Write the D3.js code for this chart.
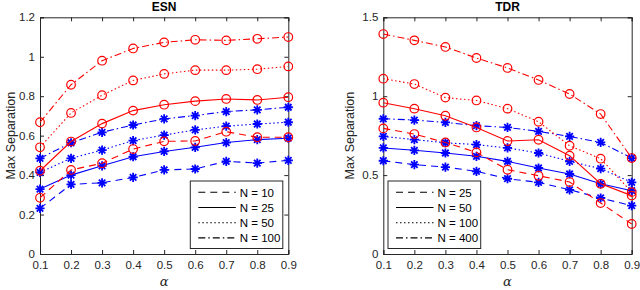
<!DOCTYPE html>
<html>
<head>
<meta charset="utf-8">
<script src="https://cdn.jsdelivr.net/npm/d3@7"></script>
<style>
  body { margin: 0; background: #fff; }
  text { font-family: "Liberation Sans", Arial, sans-serif; }
</style>
</head>
<body>
<div id="chart"></div>
<script>
// alpha values (x axis), shared by both panels
const alphas = [0.1, 0.2, 0.3, 0.4, 0.5, 0.6, 0.7, 0.8, 0.9];

// ESN panel
const esnSizes = ["N = 10", "N = 25", "N = 50", "N = 100"];
const esnRed = [
    [0.285, 0.426, 0.460, 0.532, 0.571, 0.573, 0.620, 0.592, 0.592],
    [0.422, 0.570, 0.661, 0.727, 0.757, 0.775, 0.786, 0.781, 0.795],
    [0.541, 0.715, 0.805, 0.880, 0.913, 0.932, 0.932, 0.937, 0.951],
    [0.668, 0.858, 0.980, 1.042, 1.073, 1.086, 1.083, 1.091, 1.100]
];
const esnBlue = [
    [0.231, 0.353, 0.361, 0.388, 0.426, 0.431, 0.470, 0.461, 0.475],
    [0.329, 0.400, 0.447, 0.493, 0.520, 0.541, 0.565, 0.580, 0.587],
    [0.414, 0.485, 0.527, 0.575, 0.603, 0.629, 0.648, 0.659, 0.668],
    [0.485, 0.564, 0.617, 0.654, 0.685, 0.702, 0.722, 0.731, 0.744]
];
const esnTicks = [0, 0.2, 0.4, 0.6, 0.8, 1, 1.2];

// TDR panel
const tdrSizes = ["N = 25", "N = 50", "N = 100", "N = 400"];
const tdrRed = [
    [0.796, 0.760, 0.707, 0.644, 0.534, 0.496, 0.456, 0.323, 0.190],
    [0.959, 0.921, 0.876, 0.802, 0.716, 0.724, 0.623, 0.445, 0.370],
    [1.111, 1.077, 0.991, 0.973, 0.921, 0.838, 0.686, 0.604, 0.392],
    [1.394, 1.354, 1.312, 1.242, 1.179, 1.103, 1.014, 0.887, 0.608]
];
const tdrBlue = [
    [0.591, 0.566, 0.551, 0.524, 0.477, 0.454, 0.407, 0.355, 0.306],
    [0.672, 0.657, 0.640, 0.619, 0.587, 0.545, 0.507, 0.445, 0.401],
    [0.745, 0.725, 0.705, 0.693, 0.672, 0.640, 0.587, 0.541, 0.454],
    [0.857, 0.849, 0.834, 0.813, 0.802, 0.777, 0.745, 0.707, 0.608]
];
const tdrTicks = [0, 0.5, 1, 1.5];

// line styles in legend order: dashed, solid, dotted, dash-dot
const dashes = ["7,5", null, "1.5,2.5", "7,3,1.5,3"];
const ink = "#262626";

const width = 640, height = 290;
const svg = d3.select("#chart").append("svg")
    .attr("width", width)
    .attr("height", height);

function drawPanel(opts) {
    const x = d3.scaleLinear().domain([0.1, 0.9]).range([opts.left, opts.right]);
    const y = d3.scaleLinear().domain([0, opts.ymax]).range([254, 17.3]);
    const g = svg.append("g");

    // ticks on all four sides, pointing inward
    g.append("g")
        .attr("transform", `translate(0,${y(0)})`)
        .call(d3.axisBottom(x).tickValues(alphas).tickSize(-4).tickPadding(7)
            .tickFormat(d3.format("")));
    g.append("g")
        .attr("transform", `translate(0,${y(opts.ymax)})`)
        .call(d3.axisTop(x).tickValues(alphas).tickSize(-4).tickFormat(""));
    g.append("g")
        .attr("transform", `translate(${opts.left},0)`)
        .call(d3.axisLeft(y).tickValues(opts.ticks).tickSize(-4).tickPadding(5)
            .tickFormat(d3.format("")));
    g.append("g")
        .attr("transform", `translate(${opts.right},0)`)
        .call(d3.axisRight(y).tickValues(opts.ticks).tickSize(-4).tickFormat(""));
    g.selectAll(".domain").attr("stroke", ink);
    g.selectAll(".tick line").attr("stroke", ink);
    g.selectAll(".tick text")
        .attr("fill", ink)
        .style("font-size", "11.5px")
        .style("font-family", "'Liberation Sans', Arial, sans-serif");

    const line = d3.line()
        .x((d, i) => x(alphas[i]))
        .y(d => y(d));

    const star = d3.symbol().type({
        draw(ctx, size) {
            const r = 4.6, q = r * 0.7071;
            ctx.moveTo(-r, 0); ctx.lineTo(r, 0);
            ctx.moveTo(0, -r); ctx.lineTo(0, r);
            ctx.moveTo(-q, -q); ctx.lineTo(q, q);
            ctx.moveTo(-q, q); ctx.lineTo(q, -q);
        }
    });

    // blue series with asterisks
    opts.blue.forEach((vals, k) => {
        g.append("path")
            .attr("d", line(vals))
            .attr("fill", "none")
            .attr("stroke", "#0000ff")
            .attr("stroke-width", 1.1)
            .attr("stroke-dasharray", dashes[k]);
        g.selectAll(null)
            .data(vals)
            .enter()
            .append("path")
            .attr("d", star)
            .attr("transform", (d, i) => `translate(${x(alphas[i])},${y(d)})`)
            .attr("fill", "none")
            .attr("stroke", "#0000ff")
            .attr("stroke-width", 1.8);
    });

    // red series with circles
    opts.red.forEach((vals, k) => {
        g.append("path")
            .attr("d", line(vals))
            .attr("fill", "none")
            .attr("stroke", "#ff0000")
            .attr("stroke-width", 1.1)
            .attr("stroke-dasharray", dashes[k]);
        g.selectAll(null)
            .data(vals)
            .enter()
            .append("circle")
            .attr("cx", (d, i) => x(alphas[i]))
            .attr("cy", d => y(d))
            .attr("r", 4.3)
            .attr("fill", "none")
            .attr("stroke", "#ff0000")
            .attr("stroke-width", 1.2);
    });

    // title
    g.append("text")
        .attr("x", (opts.left + opts.right) / 2)
        .attr("y", 11)
        .attr("text-anchor", "middle")
        .style("font-size", "12px")
        .style("font-weight", "bold")
        .attr("fill", "#000")
        .text(opts.title);

    // axis labels
    g.append("text")
        .attr("transform", `translate(${opts.ylabelX},${(y(0) + y(opts.ymax)) / 2}) rotate(-90)`)
        .attr("text-anchor", "middle")
        .style("font-size", "12.5px")
        .attr("fill", ink)
        .text("Max Separation");
    g.append("text")
        .attr("x", (opts.left + opts.right) / 2)
        .attr("y", 286)
        .attr("text-anchor", "middle")
        .style("font-size", "13px")
        .style("font-style", "italic")
        .style("font-family", "'DejaVu Serif', serif")
        .attr("fill", ink)
        .text("α");

    // legend
    const lg = g.append("g").attr("transform", `translate(${opts.legendX},181)`);
    lg.append("rect")
        .attr("width", opts.legendW)
        .attr("height", 67.5)
        .attr("fill", "#fff")
        .attr("stroke", ink)
        .attr("stroke-width", 1);
    opts.sizes.forEach((name, k) => {
        const ry = 11.3 + k * 15.2;
        lg.append("line")
            .attr("x1", 8).attr("x2", 45.5)
            .attr("y1", ry).attr("y2", ry)
            .attr("stroke", "#000")
            .attr("stroke-width", 1.1)
            .attr("stroke-dasharray", dashes[k]);
        lg.append("text")
            .attr("x", 49.5)
            .attr("y", ry + 4.2)
            .style("font-size", "11.5px")
            .attr("fill", "#000")
            .text(name);
    });
}

drawPanel({
    title: "ESN", left: 40, right: 288.3, ymax: 1.2, ticks: esnTicks,
    red: esnRed, blue: esnBlue, sizes: esnSizes,
    ylabelX: 15, legendX: 190.3, legendW: 92.5
});

drawPanel({
    title: "TDR", left: 383.3, right: 631.7, ymax: 1.5, ticks: tdrTicks,
    red: tdrRed, blue: tdrBlue, sizes: tdrSizes,
    ylabelX: 354, legendX: 388, legendW: 92.7
});
</script>
</body>
</html>
